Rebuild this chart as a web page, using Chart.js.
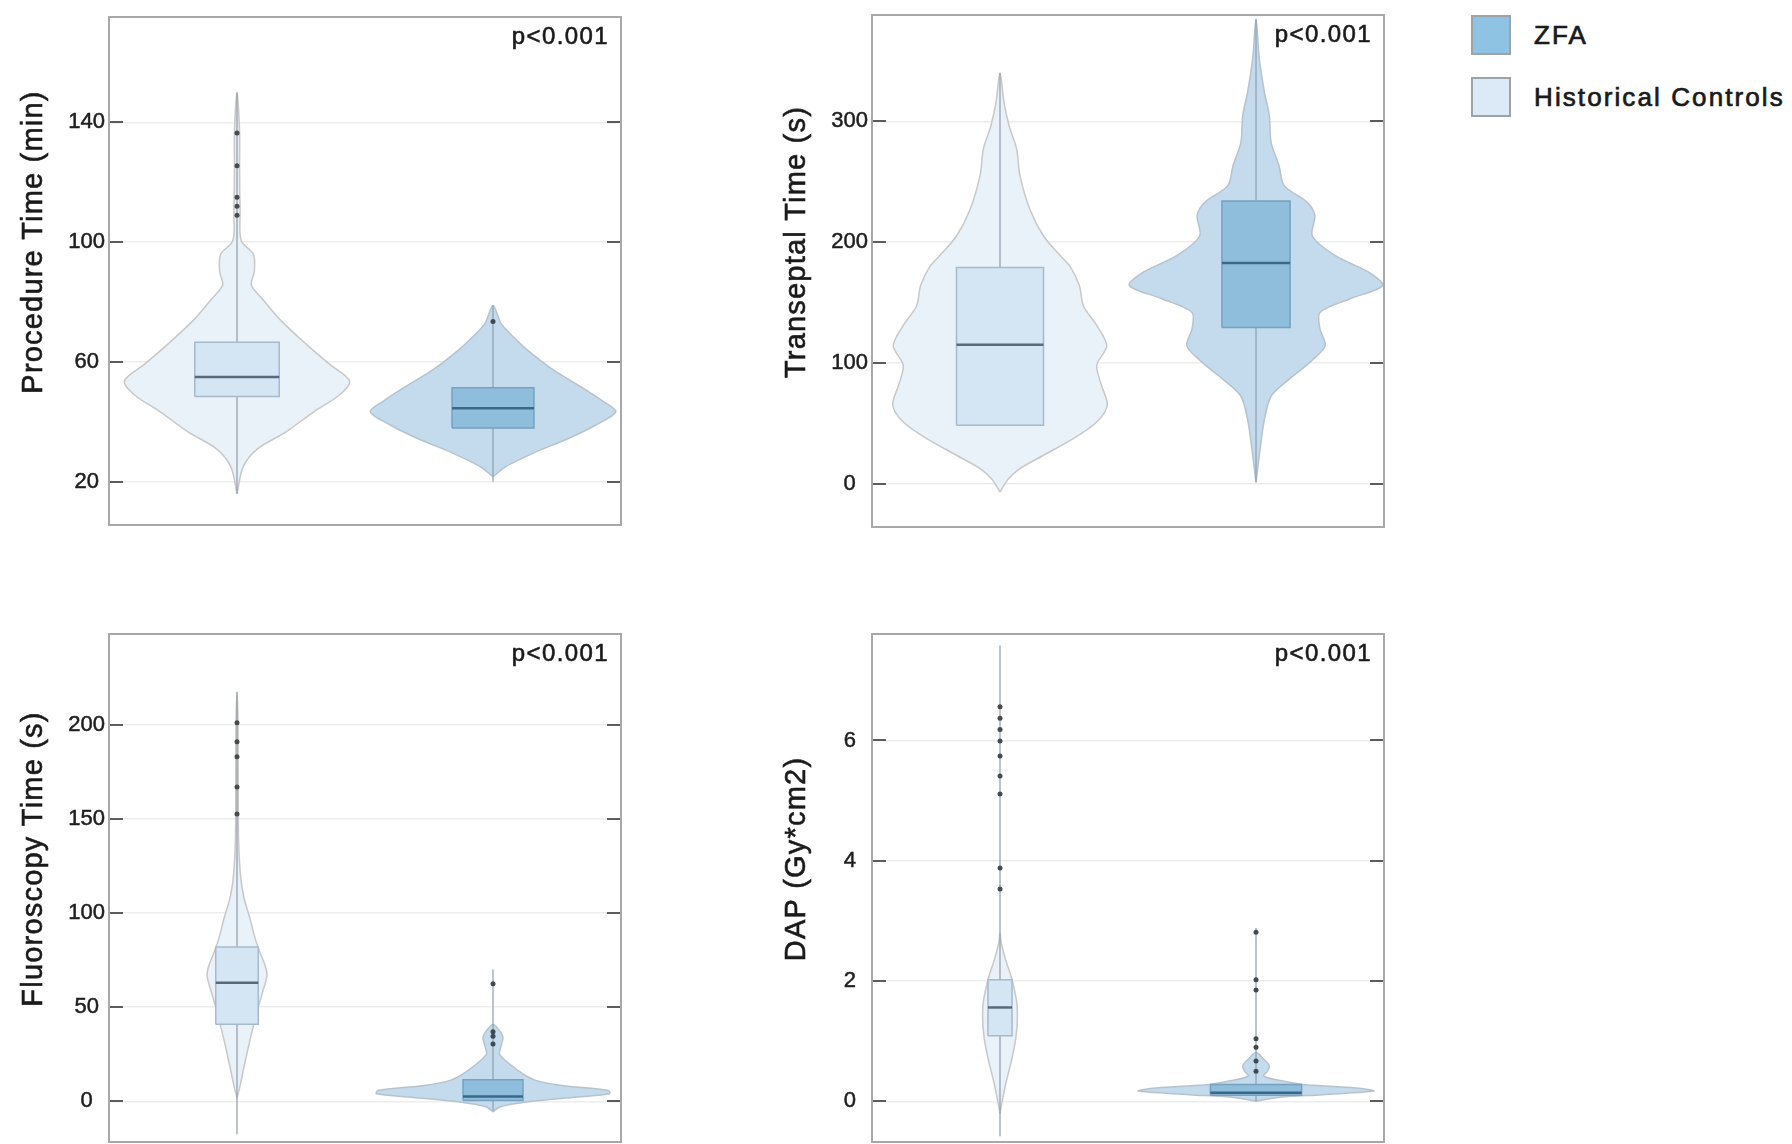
<!DOCTYPE html>
<html>
<head>
<meta charset="utf-8">
<title>ZFA vs Historical Controls</title>
<script src="https://cdn.jsdelivr.net/npm/chart.js@4.4.1/dist/chart.umd.min.js"></script>
<style>
    html, body { margin: 0; padding: 0; background: #fff; }
    body { width: 1792px; height: 1144px; position: relative; overflow: hidden;
           font-family: "Liberation Sans", Arial, sans-serif; }
    canvas { position: absolute; }
    #legend { position: absolute; left: 1471px; top: 15px; }
    .legend-item { display: flex; align-items: center; height: 40px; margin-bottom: 22px; }
    .swatch { width: 40px; height: 40px; box-sizing: border-box; border: 2px solid #9ea3a8; margin-right: 23px; }
    .legend-item span { font-size: 26px; letter-spacing: 2.1px; color: #1a1a1a; white-space: nowrap;
                        -webkit-text-stroke: 0.7px #1a1a1a; }
</style>
</head>
<body>
<canvas id="procChart"></canvas>
<canvas id="transChart"></canvas>
<canvas id="fluoroChart"></canvas>
<canvas id="dapChart"></canvas>
<div id="legend"></div>

<script>
// =========================================================================
// Datos (violines: nivel y / medio ancho en unidades de grupo)
// stats = [min, q1, mediana, q3, max]
// =========================================================================

const groups = ['Historical Controls', 'ZFA'];
const yTitles = ['Procedure Time (min)', 'Transeptal Time (s)', 'Fluoroscopy Time (s)', 'DAP (Gy*cm2)'];
const pValues = ['p<0.001', 'p<0.001', 'p<0.001', 'p<0.001'];

// Procedure time
const procTicks = [20, 60, 100, 140];
const procHcY = [16, 25, 31, 36.6, 43.4, 49, 53.7, 59.4, 66, 74, 81, 85.7, 90.3, 96, 100.6, 110, 125, 137, 150];
const procHcW = [0, 0.024, 0.08, 0.19, 0.30, 0.40, 0.44, 0.36, 0.27, 0.17, 0.10, 0.056, 0.068, 0.064, 0.016, 0.012, 0.01, 0.01, 0];
const procHcStats = [16, 48.5, 55, 66.6, 150];
const procHcOut = [109, 112, 115, 125.5, 136.5];
const procZfaY = [21.7, 25.1, 29.7, 34.3, 38.9, 43.4, 46.9, 51.4, 57.1, 64, 69.7, 73.1, 78.9];
const procZfaW = [0, 0.05, 0.16, 0.29, 0.40, 0.48, 0.43, 0.35, 0.24, 0.135, 0.064, 0.03, 0];
const procZfaStats = [20, 38, 44.6, 51.4, 79];
const procZfaOut = [73.5];

// Transeptal time
const transTicks = [0, 100, 200, 300];
const transHcY = [-7, 4, 12.4, 23.4, 37.2, 51, 65, 81, 98, 114, 131, 147, 164, 180, 189, 205, 227, 255, 277, 296, 315, 340];
const transHcW = [0, 0.033, 0.078, 0.17, 0.286, 0.378, 0.419, 0.397, 0.378, 0.417, 0.378, 0.326, 0.31, 0.273, 0.234, 0.17, 0.117, 0.078, 0.065, 0.036, 0.016, 0];
const transHcStats = [48, 48.2, 115, 179, 340];
const transHcOut = [];
const transZfaY = [1, 28.5, 53.3, 72.7, 86.5, 100.3, 114, 128, 141.7, 152.8, 164, 175, 188.7, 205, 222, 233, 246.7, 263, 282.6, 304.7, 324, 351.6, 384.8];
const transZfaW = [0, 0.016, 0.033, 0.06, 0.13, 0.21, 0.27, 0.25, 0.25, 0.365, 0.495, 0.44, 0.31, 0.22, 0.23, 0.2, 0.11, 0.09, 0.059, 0.052, 0.033, 0.013, 0];
const transZfaStats = [1, 129.3, 182.6, 234, 384];
const transZfaOut = [];

// Fluoroscopy time
const fluoroTicks = [0, 50, 100, 150, 200];
const fluoroHcY = [1.8, 7, 19.3, 33.3, 47.4, 58, 66.7, 72, 79, 86, 96.5, 108.8, 121, 140, 200, 217];
const fluoroHcW = [0, 0.01, 0.029, 0.052, 0.078, 0.1, 0.117, 0.11, 0.09, 0.072, 0.052, 0.026, 0.013, 0.006, 0.004, 0];
const fluoroHcStats = [-17.5, 41, 63, 82, 217.5];
const fluoroHcOut = [152.6, 167, 183, 191, 201];
const fluoroZfaY = [-5.6, -3, -0.35, 2.3, 4, 5.8, 8.4, 11, 14.6, 19.8, 25, 28.6, 33.9, 37.4, 41];
const fluoroZfaW = [0, 0.026, 0.13, 0.33, 0.455, 0.45, 0.27, 0.17, 0.117, 0.065, 0.026, 0.03, 0.039, 0.026, 0];
const fluoroZfaStats = [-5, 0.5, 2.6, 11.5, 70];
const fluoroZfaOut = [30.5, 34.5, 37, 62.5];

// DAP
const dapTicks = [0, 2, 4, 6];
const dapHcY = [-0.2, 0.03, 0.3, 0.68, 1.06, 1.39, 1.66, 2.05, 2.38, 2.65, 2.8];
const dapHcW = [0, 0.01, 0.023, 0.045, 0.062, 0.068, 0.065, 0.045, 0.02, 0.004, 0];
const dapHcStats = [-0.58, 1.09, 1.56, 2.02, 7.58];
const dapHcOut = [3.53, 3.88, 5.11, 5.41, 5.74, 5.99, 6.18, 6.37, 6.56];
const dapZfaY = [0, 0.06, 0.11, 0.17, 0.22, 0.28, 0.34, 0.42, 0.5, 0.59, 0.7, 0.81];
const dapZfaW = [0, 0.08, 0.26, 0.46, 0.39, 0.18, 0.1, 0.03, 0.045, 0.052, 0.03, 0];
const dapZfaStats = [0, 0.1, 0.14, 0.28, 2.88];
const dapZfaOut = [0.5, 0.67, 0.9, 1.04, 1.85, 2.02, 2.81];

// =========================================================================
// Estilos y disposicion
// =========================================================================
const HC_STYLE = {
    violinFill: '#e9f1f9', violinLine: '#c8c8c8',
    boxFill: '#d4e5f4', boxLine: '#a6bacb', median: '#566a7b',
    whisker: '#8e9ca8', dot: '#4a4a4a'
};
const ZFA_STYLE = {
    violinFill: '#c3dbec', violinLine: '#b7c3cc',
    boxFill: '#8fbedc', boxLine: '#76a1bf', median: '#3d6786',
    whisker: '#8aa0b0', dot: '#3f4a52'
};
const FONT = '"Liberation Sans", Arial, sans-serif';
const FRAME_W = 512;
const FRAME_H = 512;
const LEFT_SPACE = 100;   // espacio a la izquierda del marco (titulo + etiquetas)
const AXIS_W = 44;        // ancho del eje Y (etiquetas)

const panels = [
    { id: 'procChart', left: 109, top: 15, yMin: 5.6, yMax: 175.2, ticks: procTicks, tickPad: 4, title: yTitles[0], p: pValues[0],
      hc: { y: procHcY, w: procHcW, stats: procHcStats, out: procHcOut, half: 0.165 },
      zfa: { y: procZfaY, w: procZfaW, stats: procZfaStats, out: procZfaOut, half: 0.16 } },
    { id: 'transChart', left: 872, top: 15, yMin: -36, yMax: 388, ticks: transTicks, tickPad: 4, title: yTitles[1], p: pValues[1],
      hc: { y: transHcY, w: transHcW, stats: transHcStats, out: transHcOut, half: 0.17 },
      zfa: { y: transZfaY, w: transZfaW, stats: transZfaStats, out: transZfaOut, half: 0.133 } },
    { id: 'fluoroChart', left: 109, top: 632, yMin: -21.6, yMax: 248.2, ticks: fluoroTicks, tickPad: 4, title: yTitles[2], p: pValues[2],
      hc: { y: fluoroHcY, w: fluoroHcW, stats: fluoroHcStats, out: fluoroHcOut, half: 0.083 },
      zfa: { y: fluoroZfaY, w: fluoroZfaW, stats: fluoroZfaStats, out: fluoroZfaOut, half: 0.117 } },
    { id: 'dapChart', left: 872, top: 632, yMin: -0.677, yMax: 7.77, ticks: dapTicks, tickPad: 16, title: yTitles[3], p: pValues[3],
      hc: { y: dapHcY, w: dapHcW, stats: dapHcStats, out: dapHcOut, half: 0.047 },
      zfa: { y: dapZfaY, w: dapZfaW, stats: dapZfaStats, out: dapZfaOut, half: 0.178 } }
];

// Marco, marcas internas, titulo del eje y p-valor
const framePlugin = {
    id: 'frame',
    afterDraw(chart, args, opts) {
        const { ctx, chartArea: a, scales: { y } } = chart;
        ctx.save();

        // marcas de eje hacia adentro (izquierda y derecha)
        ctx.strokeStyle = '#5c5c5c';
        ctx.lineWidth = 2;
        y.ticks.forEach(t => {
            const py = Math.round(y.getPixelForValue(t.value));
            ctx.beginPath();
            ctx.moveTo(a.left, py);
            ctx.lineTo(a.left + 14, py);
            ctx.moveTo(a.right - 14, py);
            ctx.lineTo(a.right, py);
            ctx.stroke();
        });

        ctx.strokeStyle = '#a8a8a8';
        ctx.lineWidth = 2;
        ctx.strokeRect(a.left, a.top, a.right - a.left, a.bottom - a.top);

        // p-valor
        ctx.fillStyle = '#1a1a1a';
        ctx.strokeStyle = '#1a1a1a';
        ctx.lineWidth = 0.6;
        ctx.font = '24px ' + FONT;
        ctx.letterSpacing = '1.4px';
        ctx.textAlign = 'right';
        ctx.textBaseline = 'alphabetic';
        ctx.fillText(opts.pText, a.right - 12, a.top + 27);
        ctx.strokeText(opts.pText, a.right - 12, a.top + 27);

        // titulo del eje Y (rotado)
        ctx.translate(a.left - 75, (a.top + a.bottom) / 2 - 29);
        ctx.rotate(-Math.PI / 2);
        ctx.textAlign = 'center';
        ctx.textBaseline = 'middle';
        ctx.font = '29px ' + FONT;
        ctx.letterSpacing = '1.2px';
        ctx.lineWidth = 0.6;
        ctx.fillText(opts.title, 0, 0);
        ctx.strokeText(opts.title, 0, 0);
        ctx.restore();
    }
};

function violinPoints(center, ys, ws) {
    const right = ys.map((v, i) => ({ x: center + ws[i], y: v }));
    const left = ys.map((v, i) => ({ x: center - ws[i], y: v })).reverse();
    return right.concat(left.slice(1));
}

function boxPoints(center, half, q1, q3) {
    return [
        { x: center - half, y: q1 }, { x: center + half, y: q1 },
        { x: center + half, y: q3 }, { x: center - half, y: q3 },
        { x: center - half, y: q1 }
    ];
}

function groupDatasets(center, g, st) {
    const [min, q1, med, q3, max] = g.stats;
    return [
        {
            data: violinPoints(center, g.y, g.w),
            backgroundColor: st.violinFill, borderColor: st.violinLine,
            borderWidth: 1.5, fill: 'shape', tension: 0.3, pointRadius: 0,
            borderJoinStyle: 'round', order: 10
        },
        {
            data: [{ x: center, y: min }, { x: center, y: max }],
            borderColor: st.whisker, borderWidth: 1.2, pointRadius: 0, order: 9
        },
        {
            data: boxPoints(center, g.half, q1, q3),
            backgroundColor: st.boxFill, borderColor: st.boxLine,
            borderWidth: 1.5, fill: 'shape', tension: 0, pointRadius: 0, order: 8
        },
        {
            data: [{ x: center - g.half, y: med }, { x: center + g.half, y: med }],
            borderColor: st.median, borderWidth: 2.5, pointRadius: 0, order: 7
        },
        {
            data: g.out.map(v => ({ x: center, y: v })),
            showLine: false, pointRadius: 2.5, pointBorderWidth: 0,
            pointBackgroundColor: st.dot, order: 6
        }
    ];
}

function makeChart(p) {
    const canvas = document.getElementById(p.id);
    canvas.width = FRAME_W + LEFT_SPACE + 4;
    canvas.height = FRAME_H + 4;
    canvas.style.left = (p.left - LEFT_SPACE) + 'px';
    canvas.style.top = (p.top - 2) + 'px';

    return new Chart(canvas, {
        type: 'line',
        data: {
            datasets: [
                ...groupDatasets(1, p.hc, HC_STYLE),
                ...groupDatasets(2, p.zfa, ZFA_STYLE)
            ]
        },
        options: {
            responsive: false,
            animation: false,
            devicePixelRatio: 1,
            layout: { padding: { left: LEFT_SPACE - AXIS_W, right: 4, top: 2, bottom: 2 } },
            scales: {
                x: { type: 'linear', min: 0.5, max: 2.5, display: false },
                y: {
                    min: p.yMin,
                    max: p.yMax,
                    afterBuildTicks: axis => { axis.ticks = p.ticks.map(v => ({ value: v })); },
                    afterFit: axis => {
                        axis.width = AXIS_W;
                        axis.paddingTop = 0;
                        axis.paddingBottom = 0;
                    },
                    ticks: {
                        padding: p.tickPad,
                        crossAlign: 'center',
                        color: '#1e1e1e',
                        textStrokeColor: '#1e1e1e',
                        textStrokeWidth: 0.5,
                        font: { family: FONT, size: 22 }
                    },
                    grid: { color: '#ededed', lineWidth: 1.5, drawTicks: false },
                    border: { display: false }
                }
            },
            plugins: {
                legend: { display: false },
                tooltip: { enabled: false },
                frame: { title: p.title, pText: p.p }
            }
        },
        plugins: [framePlugin]
    });
}

function buildLegend() {
    const legend = document.getElementById('legend');
    const entries = [
        { label: groups[1], fill: '#8ec3e3' },
        { label: groups[0], fill: '#dce9f6' }
    ];
    legend.innerHTML = entries.map(e => `
        <div class="legend-item">
            <div class="swatch" style="background:${e.fill}"></div>
            <span>${e.label}</span>
        </div>`).join('');
}

panels.forEach(makeChart);
buildLegend();
</script>
</body>
</html>
